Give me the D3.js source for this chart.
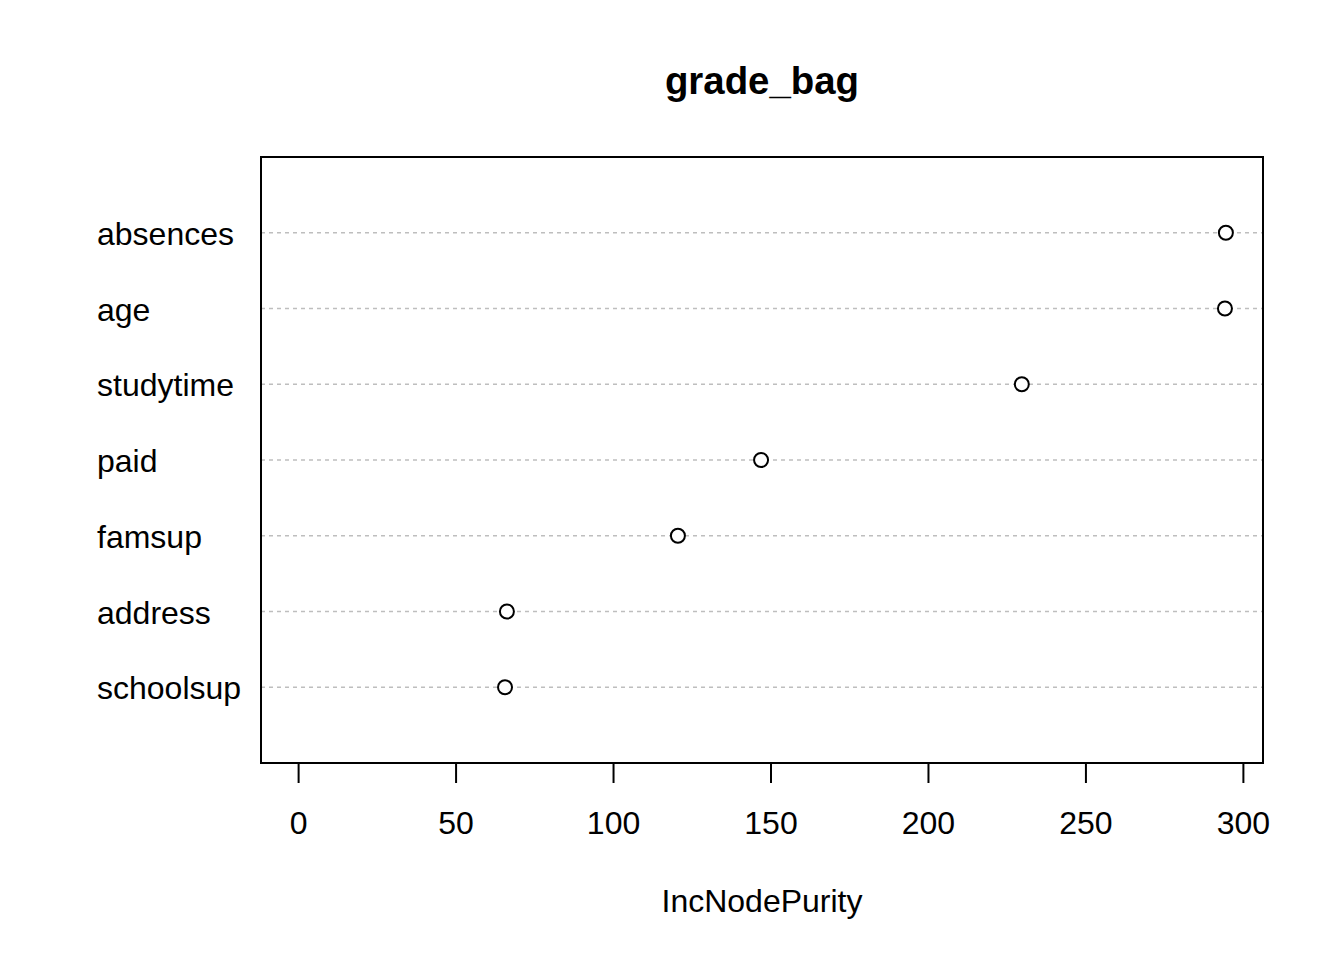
<!DOCTYPE html>
<html>
<head>
<meta charset="utf-8">
<script src="https://cdn.jsdelivr.net/npm/d3@7"></script>
<style>
  body { margin: 0; background: #fff; }
  text { font-family: "Liberation Sans", Arial, Helvetica, sans-serif; fill: #000; }
</style>
</head>
<body>
<div id="chart"></div>
<script>
// variable importance (bagged model), bottom to top
var variables = ["schoolsup", "address", "famsup", "paid", "studytime", "age", "absences"];
var purity = [65.7, 66.3, 120.6, 147.0, 229.8, 294.3, 294.6];
var xTicks = [0, 50, 100, 150, 200, 250, 300];

var width = 1344, height = 960;
var box = {left: 261, right: 1263, top: 157, bottom: 763};

var svg = d3.select("#chart").append("svg")
    .attr("width", width)
    .attr("height", height);

// R style: xlim = c(0, max), extended 4%
var xmax = d3.max(purity);
var pad = xmax * 0.04;
var x = d3.scaleLinear()
    .domain([0 - pad, xmax + pad])
    .range([box.left, box.right]);

var y = d3.scaleLinear()
    .domain([0, variables.length + 1])
    .range([box.bottom, box.top]);

// dotted guide lines
svg.append("g")
  .selectAll("line")
  .data(variables)
  .enter().append("line")
    .attr("x1", box.left)
    .attr("x2", box.right)
    .attr("y1", function(d, i) { return y(i + 1); })
    .attr("y2", function(d, i) { return y(i + 1); })
    .attr("stroke", "#bebebe")
    .attr("stroke-width", 1.5)
    .attr("stroke-dasharray", "4,4");

// points
svg.append("g")
  .selectAll("circle")
  .data(purity)
  .enter().append("circle")
    .attr("cx", function(d) { return x(d); })
    .attr("cy", function(d, i) { return y(i + 1); })
    .attr("r", 7)
    .attr("fill", "#fff")
    .attr("stroke", "#000")
    .attr("stroke-width", 2);

// row labels
svg.append("g")
  .selectAll("text")
  .data(variables)
  .enter().append("text")
    .attr("x", 97)
    .attr("y", function(d, i) { return y(i + 1) + 12; })
    .attr("font-size", 32)
    .text(function(d) { return d; });

// frame
svg.append("rect")
    .attr("x", box.left)
    .attr("y", box.top)
    .attr("width", box.right - box.left)
    .attr("height", box.bottom - box.top)
    .attr("fill", "none")
    .attr("stroke", "#000")
    .attr("stroke-width", 2);

// x axis
var xAxis = d3.axisBottom(x)
    .tickValues(xTicks)
    .tickSize(20)
    .tickPadding(28)
    .tickSizeOuter(0);

var ax = svg.append("g")
    .attr("transform", "translate(0," + box.bottom + ")")
    .call(xAxis);
ax.select(".domain")
    .attr("d", "M" + x(xTicks[0]) + ",0H" + x(xTicks[xTicks.length - 1]))
    .attr("stroke-width", 2);
ax.selectAll(".tick line").attr("stroke-width", 2);
ax.selectAll(".tick text")
    .attr("font-size", 32)
    .attr("font-family", "Liberation Sans, Arial, sans-serif")
    .attr("fill", "#000");

// axis title
svg.append("text")
    .attr("x", (box.left + box.right) / 2)
    .attr("y", 912)
    .attr("text-anchor", "middle")
    .attr("font-size", 32)
    .text("IncNodePurity");

// main title
svg.append("text")
    .attr("x", (box.left + box.right) / 2)
    .attr("y", 94)
    .attr("text-anchor", "middle")
    .attr("font-size", 38.4)
    .attr("font-weight", "bold")
    .text("grade_bag");
</script>
</body>
</html>
